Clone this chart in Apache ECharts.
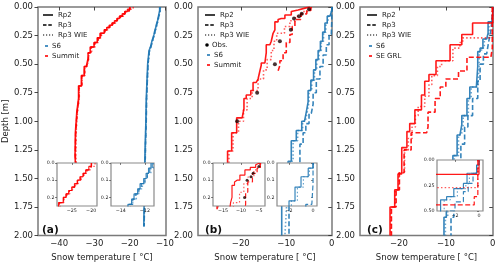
<!DOCTYPE html>
<html><head><meta charset="utf-8">
<script src="https://cdn.jsdelivr.net/npm/echarts@6/dist/echarts.min.js"></script>
<style>html,body{margin:0;padding:0;background:#fff}#c{width:500px;height:267px}</style>
</head><body><div id="c"></div>
<script>
// ---------------- DATA ----------------
// Panel (a)
const depthA_summit = [0, 0.02, 0.04, 0.06, 0.08, 0.10, 0.12, 0.14, 0.16, 0.18, 0.20, 0.23, 0.27, 0.31, 0.35, 0.40, 0.45, 0.52, 0.60, 0.69, 0.80, 0.92, 1.10, 1.30, 1.50];
const bottomA_summit = 1.68;
const summitA_rp2 = [-20.0, -20.6, -21.4, -22.1, -22.9, -23.6, -24.3, -25.0, -25.8, -26.5, -27.2, -28.4, -29.2, -30.1, -31.2, -31.8, -32.3, -32.9, -33.7, -34.5, -35.0, -35.4, -35.5, -35.2, -35.0];
const summitA_rp3 = [-19.9, -20.4, -21.3, -22.0, -22.7, -23.5, -24.2, -24.9, -25.6, -26.4, -27.1, -28.2, -29.0, -30.0, -31.0, -31.7, -32.2, -32.8, -33.6, -34.4, -34.9, -35.3, -35.4, -35.1, -34.9];
const summitA_wie = [-19.0, -20.2, -21.0, -21.8, -22.6, -23.3, -24.0, -24.8, -25.5, -26.2, -27.0, -28.0, -28.9, -29.8, -30.8, -31.6, -32.1, -32.7, -33.5, -34.3, -34.8, -35.2, -35.3, -35.0, -34.8];
const depthA_s6 = [0, 0.03, 0.06, 0.09, 0.12, 0.15, 0.18, 0.21, 0.24, 0.27, 0.30, 0.34, 0.38, 0.50, 0.65, 0.80, 1.00, 1.20, 1.50];
const bottomA_s6 = 1.92;
const s6A_rp2 = [-11.5, -11.7, -11.9, -12.1, -12.4, -12.6, -12.9, -13.1, -13.4, -13.7, -14.0, -14.5, -14.9, -15.1, -15.3, -15.4, -15.6, -15.8, -16.0];
const s6A_rp3 = [-11.4, -11.6, -11.8, -12.0, -12.3, -12.5, -12.8, -13.0, -13.3, -13.6, -13.9, -14.4, -14.8, -15.0, -15.2, -15.3, -15.5, -15.7, -15.9];
const s6A_wie = [-11.3, -11.5, -11.8, -12.0, -12.2, -12.5, -12.7, -13.0, -13.2, -13.5, -13.9, -14.3, -14.8, -15.0, -15.2, -15.4, -15.5, -15.7, -15.9];

// Panel (b)
const depthB_summit_rp2 = [0, 0.01, 0.026, 0.04, 0.07, 0.10, 0.11, 0.13, 0.20, 0.23, 0.30, 0.33, 0.40, 0.49, 0.51, 0.56, 0.63, 0.66, 0.73, 0.77, 0.80, 0.89, 0.97, 1.10, 1.26, 1.45, 1.60];
const summitB_rp2 = [-4.8, -5.9, -7.4, -8.9, -10.3, -11.1, -11.8, -12.5, -12.9, -13.3, -13.6, -14.4, -14.7, -15.5, -15.8, -16.2, -16.6, -17.3, -17.8, -18.8, -19.3, -19.7, -20.9, -22.0, -22.9, -24.0, -25.2];
const depthB_summit_wie = [0, 0.02, 0.04, 0.08, 0.12, 0.17, 0.23, 0.30, 0.38, 0.46, 0.55, 0.63, 0.73, 0.80, 0.90, 1.00, 1.10, 1.26, 1.45, 1.60];
const summitB_wie = [-4.5, -5.3, -6.4, -8.0, -9.2, -10.4, -12.1, -12.7, -13.3, -14.2, -15.0, -16.2, -17.5, -18.6, -19.4, -20.5, -21.7, -22.6, -23.8, -25.0];
const bottomB_summit = 1.77;
const depthB_summit_rp3 = [0, 0.03, 0.06, 0.11, 0.17, 0.24, 0.31, 0.40, 0.47, 0.51];
const summitB_rp3 = [-4.6, -5.5, -6.8, -8.1, -8.7, -9.2, -10.0, -10.7, -11.4, -11.8];
const bottomB_summit_rp3 = 0.56;
const obsTemp = [-5.0, -6.6, -7.2, -8.3, -9.0, -11.4, -12.5, -16.4, -20.8];
const obsDepth = [0.02, 0.06, 0.08, 0.10, 0.20, 0.30, 0.50, 0.75, 1.00];
const depthB_s6 = [0, 0.03, 0.08, 0.14, 0.22, 0.30, 0.38, 0.46, 0.55, 0.64, 0.73, 0.83, 0.92, 1.00, 1.08, 1.17, 1.35, 1.55, 1.72];
const s6B_rp2 = [0, -0.4, -1.0, -1.5, -2.0, -2.5, -3.0, -3.5, -4.0, -4.6, -5.2, -5.6, -6.0, -6.6, -7.8, -8.9, -9.6, -10.3, -11.0];
const s6B_wie = [0, -0.3, -0.8, -1.3, -1.8, -2.3, -2.8, -3.3, -3.8, -4.4, -5.0, -5.4, -5.8, -6.4, -7.5, -8.5, -9.2, -9.9, -10.3];
const depthB_s6_rp3 = [0, 0.12, 0.24, 0.33, 0.42, 0.52, 0.63, 0.75, 0.85, 0.93, 1.02, 1.10, 1.20, 1.50, 1.72];
const s6B_rp3 = [0, -0.1, -0.6, -1.2, -1.9, -2.6, -3.4, -4.1, -4.5, -5.0, -5.7, -6.3, -7.0, -8.3, -9.4];
const bottomB_s6 = 2.0;

// Panel (c)
const depthC_se_rp2 = [0, 0.14, 0.24, 0.33, 0.47, 0.59, 0.65, 0.77, 0.90, 1.02, 1.09, 1.23, 1.46, 1.60, 1.75];
const seC_rp2 = [0, -4.3, -6.6, -9.1, -12.1, -13.6, -14.5, -15.2, -16.6, -17.7, -18.3, -19.4, -20.2, -20.9, -21.9];
const depthC_se_wie = [0, 0.27, 0.31, 0.36, 0.47, 0.52, 0.60, 0.68, 0.78, 0.87, 0.95, 1.05, 1.15, 1.25, 1.45, 1.60, 1.75];
const seC_wie = [-0.1, -6.4, -7.0, -8.5, -10.9, -11.8, -13.0, -13.6, -14.5, -15.9, -16.5, -17.2, -18.0, -18.8, -20.0, -20.8, -21.7];
const depthC_se_rp3 = [0, 0.36, 0.44, 0.56, 0.63, 0.70, 0.80, 0.92, 1.05, 1.10, 1.25, 1.45, 1.60, 1.75];
const seC_rp3 = [-0.1, -0.4, -5.5, -7.3, -10.0, -11.2, -12.3, -13.8, -14.1, -17.4, -18.9, -19.9, -20.6, -21.6];
const depthC_s6 = [0, 0.05, 0.13, 0.23, 0.28, 0.36, 0.39, 0.52, 0.70, 0.80, 0.95, 1.03, 1.12, 1.30, 1.50, 1.70, 1.84];
const s6C_rp2 = [0, -0.2, -1.0, -1.3, -2.1, -2.7, -3.2, -3.5, -4.9, -5.5, -6.6, -7.0, -7.6, -8.5, -9.3, -9.9, -10.4];
const s6C_wie = [0, -0.1, -0.8, -1.1, -1.8, -2.4, -2.9, -3.2, -4.6, -5.2, -6.3, -6.7, -7.3, -8.2, -9.0, -9.6, -10.1];
const depthC_s6_rp3 = [0, 0.05, 0.13, 0.23, 0.31, 0.41, 0.50, 0.65, 0.80, 0.95, 1.05, 1.20, 1.40, 1.60, 1.84];
const s6C_rp3 = [0, -0.2, -0.5, -0.9, -1.3, -2.0, -2.7, -3.2, -4.3, -5.3, -6.0, -6.8, -7.6, -8.3, -8.9];
const bottomC = 2.0;

// Axes ticks
const xTicksA = [-40, -30, -20, -10];
const xTicksB = [-20, -10, 0];
const xTicksC = [-20, -10, 0];
const xTicksInsetA1 = [-25, -20];
const xTicksInsetA2 = [-14, -12];
const xTicksInsetB1 = [-15, -10, -5];
const xTicksInsetB2 = [-2, 0];
const xTicksInsetC = [-2, 0];
const yTicksInsetAB = [0, 0.1, 0.2];
const yTicksInsetC = [0, 0.25, 0.5];

// Legend labels
const legendA = ['Rp2', 'Rp3', 'Rp3 WIE', 'S6', 'Summit'];
const legendB = ['Rp2', 'Rp3', 'Rp3 WIE', 'Obs.', 'S6', 'Summit'];
const legendC = ['Rp2', 'Rp3', 'Rp3 WIE', 'S6', 'SE GRL'];
const xName = 'Snow temperature [ \u00B0C]';
const yName = 'Depth [m]';

// ---------------- BUILD ----------------
const FONT = 'DejaVu Sans';
const RED = '#ff0000', BLUE = '#1f77b4';
const STY = {
  rp2: { type: 'solid', op: 0.9 },
  rp3: { type: [5, 2.5], op: 0.9 },
  wie: { type: [1.5, 2.2], op: 0.65 }
};
function steps(depths, temps, bottom) {
  const pts = [];
  for (let i = 0; i < depths.length; i++) {
    const next = i + 1 < depths.length ? depths[i + 1] : bottom;
    pts.push([temps[i], depths[i]], [temps[i], next]);
  }
  return pts;
}
const minus = v => (v < 0 ? '\u2212' : '') + Math.abs(v);

// grids: 0 a, 1 b, 2 c, 3 a-inset1, 4 a-inset2, 5 b-inset1, 6 b-inset2, 7 c-inset
const gridDefs = [
  { left: 38, top: 7, width: 128, height: 232 },
  { left: 198, top: 7, width: 134, height: 232 },
  { left: 360, top: 7, width: 133, height: 232 },
  { left: 57, top: 163, width: 40, height: 43 },
  { left: 111, top: 163, width: 43, height: 43 },
  { left: 213, top: 163, width: 52, height: 43 },
  { left: 277, top: 163, width: 40, height: 43 },
  { left: 437, top: 160, width: 46, height: 51 }
];
const xr = [[-46, -9.7, xTicksA], [-29.4, 0.05, xTicksB], [-28.3, 0.05, xTicksC],
  [-28.8, -18.5, xTicksInsetA1], [-14.8, -11.25, xTicksInsetA2], [-17.8, -3.3, xTicksInsetB1],
  [-3, 0.33, xTicksInsetB2], [-3.5, 0.33, xTicksInsetC]];
const yr = [[0, 2], [0, 2], [0, 2], [0, 0.25, yTicksInsetAB], [0, 0.25, yTicksInsetAB],
  [0, 0.25, yTicksInsetAB], [0, 0.25, yTicksInsetAB], [0, 0.5, yTicksInsetC]];

const grid = gridDefs.map((g, i) => Object.assign({}, g, {
  show: true, backgroundColor: '#fff',
  borderColor: i < 3 ? '#7a7a7a' : '#8a8a8a', borderWidth: i < 3 ? 1.5 : 1.2,
  z: i < 3 ? 0 : 10
}));

const xAxis = xr.map((r, i) => {
  const main = i < 3;
  return {
    type: 'value', gridIndex: i, min: r[0], max: r[1], z: main ? 0 : 12,
    axisLine: { show: false }, splitLine: { show: false },
    axisTick: { show: true, length: main ? 3.5 : 2, customValues: r[2], lineStyle: { color: '#333', width: main ? 0.9 : 0.6 } },
    axisLabel: { customValues: r[2], formatter: minus, fontSize: main ? 8.5 : 4.8, color: '#222', fontFamily: FONT, margin: main ? 3.5 : 1.8 },
    name: main ? xName : '', nameLocation: 'middle', nameGap: 13,
    nameTextStyle: { fontSize: 8.5, color: '#222', fontFamily: FONT }
  };
});
const yAxis = yr.map((r, i) => {
  const main = i < 3;
  const ax = {
    type: 'value', gridIndex: i, min: r[0], max: r[1], inverse: true, z: main ? 0 : 12,
    axisLine: { show: false }, splitLine: { show: false },
    axisTick: { show: true, length: main ? 3.5 : 2, lineStyle: { color: '#333', width: main ? 0.9 : 0.6 } },
    axisLabel: { fontSize: main ? 8.5 : 4.8, color: '#222', fontFamily: FONT, margin: main ? 5 : 2.5, showMinLabel: true, showMaxLabel: true },
    name: (i === 0) ? yName : '', nameLocation: 'middle', nameGap: 24,
    nameTextStyle: { fontSize: 8.5, color: '#222', fontFamily: FONT }
  };
  if (main) {
    ax.interval = 0.25;
    ax.axisLabel.formatter = v => v.toFixed(2);
  } else {
    ax.axisTick.customValues = r[2];
    ax.axisLabel.customValues = r[2];
    ax.axisLabel.formatter = i === 7 ? (v => v.toFixed(2)) : (v => v.toFixed(1));
  }
  return ax;
});

const series = [];
function addProfile(grids, pts, color, sty) {
  grids.forEach(g => {
    const main = g < 3;
    series.push({
      type: 'line', xAxisIndex: g, yAxisIndex: g, data: pts, symbol: 'none', silent: true,
      z: main ? 2 : 12, clip: true,
      lineStyle: { color: color, width: main ? 1.6 : 1.2, type: sty.type, opacity: sty.op }
    });
  });
}
// (a)
addProfile([0, 4], steps(depthA_s6, s6A_rp2, bottomA_s6), BLUE, STY.rp2);
addProfile([0, 4], steps(depthA_s6, s6A_rp3, bottomA_s6), BLUE, STY.rp3);
addProfile([0, 4], steps(depthA_s6, s6A_wie, bottomA_s6), BLUE, STY.wie);
addProfile([0, 3], steps(depthA_summit, summitA_rp2, bottomA_summit), RED, STY.rp2);
addProfile([0, 3], steps(depthA_summit, summitA_rp3, bottomA_summit), RED, STY.rp3);
addProfile([0, 3], steps(depthA_summit, summitA_wie, bottomA_summit), RED, STY.wie);
// (b)
addProfile([1, 6], steps(depthB_s6, s6B_rp2, bottomB_s6), BLUE, STY.rp2);
addProfile([1, 6], steps(depthB_s6_rp3, s6B_rp3, bottomB_s6), BLUE, STY.rp3);
addProfile([1, 6], steps(depthB_s6, s6B_wie, bottomB_s6), BLUE, STY.wie);
addProfile([1, 5], steps(depthB_summit_rp2, summitB_rp2, bottomB_summit), RED, STY.rp2);
addProfile([1, 5], steps(depthB_summit_rp3, summitB_rp3, bottomB_summit_rp3), RED, STY.rp3);
addProfile([1, 5], steps(depthB_summit_wie, summitB_wie, bottomB_summit), RED, STY.wie);
[1, 5].forEach(g => series.push({
  type: 'scatter', xAxisIndex: g, yAxisIndex: g, silent: true, z: g < 3 ? 3 : 13, clip: true,
  data: obsTemp.map((t, i) => [t, obsDepth[i]]), symbol: 'circle', symbolSize: g < 3 ? 4 : 3,
  itemStyle: { color: '#1a0000' }
}));
// (c)
addProfile([2, 7], steps(depthC_s6, s6C_rp2, bottomC), BLUE, STY.rp2);
addProfile([2, 7], steps(depthC_s6_rp3, s6C_rp3, bottomC), BLUE, STY.rp3);
addProfile([2, 7], steps(depthC_s6, s6C_wie, bottomC), BLUE, STY.wie);
addProfile([2, 7], steps(depthC_se_rp2, seC_rp2, bottomC), RED, STY.rp2);
addProfile([2, 7], steps(depthC_se_rp3, seC_rp3, bottomC), RED, STY.rp3);
addProfile([2, 7], steps(depthC_se_wie, seC_wie, bottomC), RED, STY.wie);

// ---------------- LEGENDS & LABELS (graphic) ----------------
const graphic = [];
function legend(labels, kinds, x0, rows) {
  labels.forEach((lab, i) => {
    const y = rows[i];
    const k = kinds[i];
    let tx;
    if (k === 'rp2' || k === 'rp3' || k === 'wie') {
      const dash = k === 'rp2' ? null : (k === 'rp3' ? [3.5, 1.8] : [1.2, 1.8]);
      graphic.push({ type: 'line', shape: { x1: x0, y1: y, x2: x0 + 10, y2: y }, silent: true,
        style: { stroke: k === 'wie' ? '#555' : '#000', lineWidth: 1.5, lineDash: dash } });
      tx = x0 + 15;
    } else if (k === 'obs') {
      graphic.push({ type: 'circle', shape: { cx: x0 + 2, cy: y, r: 1.8 }, silent: true, style: { fill: '#000' } });
      tx = x0 + 7;
    } else {
      graphic.push({ type: 'line', shape: { x1: x0 + 2, y1: y, x2: x0 + 5, y2: y }, silent: true,
        style: { stroke: k, lineWidth: 1.6 } });
      tx = x0 + 9;
    }
    graphic.push({ type: 'text', x: tx, y: y, silent: true,
      style: { text: lab, fontSize: 7, fontFamily: FONT, fill: '#222', verticalAlign: 'middle' } });
  });
}
legend(legendA, ['rp2', 'rp3', 'wie', BLUE, RED], 43, [15, 25, 35, 46, 56]);
legend(legendB, ['rp2', 'rp3', 'wie', 'obs', BLUE, RED], 205, [15, 25, 35, 45, 55, 65]);
legend(legendC, ['rp2', 'rp3', 'wie', BLUE, RED], 367, [15, 25, 35, 46, 56]);
[['(a)', 42], ['(b)', 205], ['(c)', 367]].forEach(p => graphic.push({
  type: 'text', x: p[1], y: 230, silent: true, z: 20,
  style: { text: p[0], fontSize: 10.5, fontWeight: 'bold', fontFamily: FONT, fill: '#111', verticalAlign: 'middle' }
}));

const chart = echarts.init(document.getElementById('c'), null, { renderer: 'canvas' });
chart.setOption({ animation: false, grid, xAxis, yAxis, series, graphic });
</script></body></html>
